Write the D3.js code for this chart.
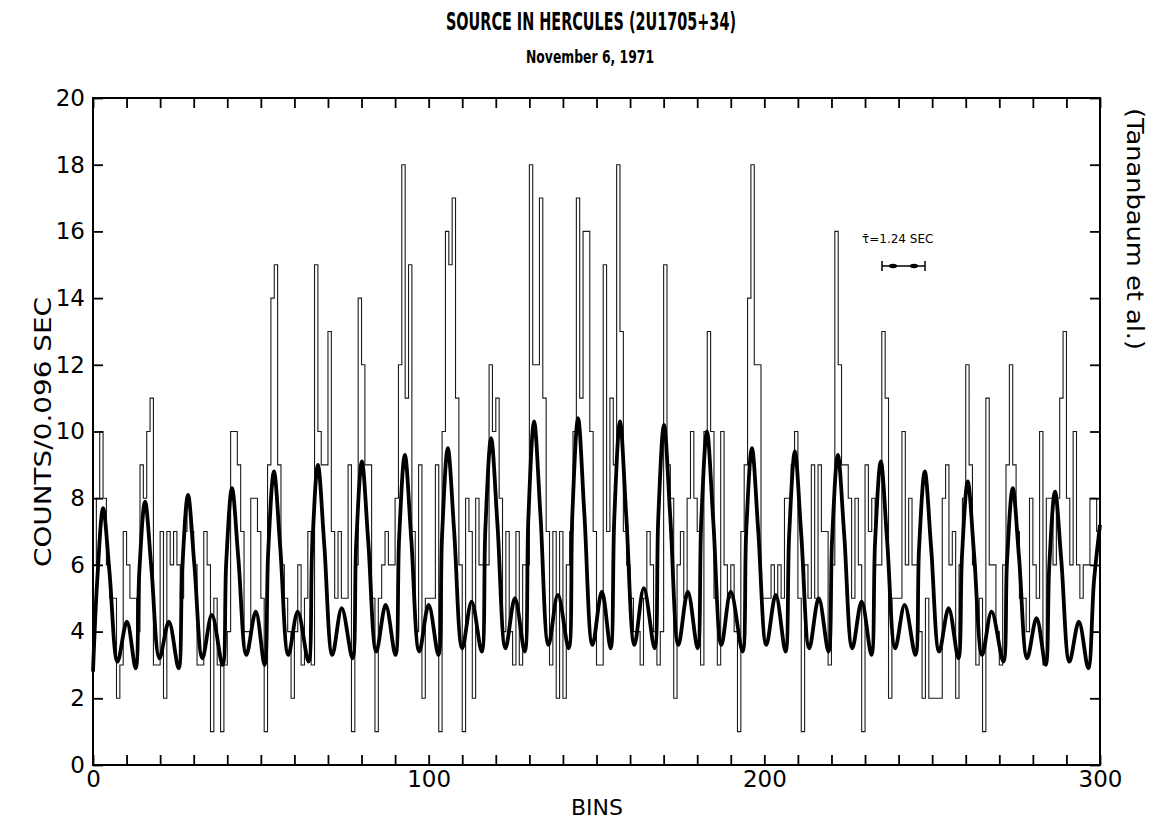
<!DOCTYPE html>
<html><head><meta charset="utf-8">
<script src="https://cdn.jsdelivr.net/npm/d3@7"></script>
<style>
body{margin:0;background:#fff;}
svg{display:block;}
</style></head>
<body><svg id="chart" width="1153" height="829"></svg>
<script>
// ---- data ----
const counts = [
6,8,10,8,6,5,5,2,3,7, 6,5,5,4,9,8,10,11,3,3, 7,2,7,6,7,6,5,7,8,7,
6,3,3,7,6,1,5,3,1,3, 4,10,10,9,7,4,4,8,8,7, 5,1,9,14,15,9,6,5,4,2,
4,6,3,5,7,3,15,10,9,9, 13,7,5,7,5,5,9,1,6,14, 12,9,9,5,1,5,6,7,6,6,
8,12,18,11,15,7,4,9,2,5, 5,5,9,1,10,16,15,17,11,6, 1,8,7,2,8,6,6,6,12,10,
11,8,4,7,4,3,7,3,6,6, 18,12,12,17,11,7,3,7,2,7, 2,6,7,10,17,11,16,16,10,7,
3,3,15,7,11,9,18,13,7,6, 5,4,4,3,5,7,6,4,3,4, 15,9,8,2,6,7,5,8,10,8,
7,3,10,13,10,5,3,10,6,5, 6,4,1,7,9,14,18,12,12,5, 5,5,6,5,6,5,8,8,9,10,
5,1,6,5,9,5,9,7,7,3, 6,16,12,9,9,8,5,8,6,1, 9,7,8,6,6,13,11,2,5,5,
5,10,6,8,6,6,4,2,5,2, 2,2,2,8,9,6,7,2,6,8, 12,9,6,3,5,1,11,6,6,4,
3,6,9,12,9,7,5,5,4,8, 6,5,10,3,8,8,6,8,11,13, 8,6,10,6,5,6,6,8,8,7
];
const modelBins = [
0,1.3,3.0,4.9,7.3,10.1,12.7,
13.8,15.5,17.4,19.8,22.6,25.5,
26.6,28.3,30.2,32.6,35.4,38.6,
39.7,41.4,43.3,45.7,48.5,51.1,
52.2,53.9,55.8,58.2,61.0,64.2,
65.3,67.0,68.9,71.3,74.1,77.3,
78.4,80.1,82.0,84.4,87.2,90.1,
91.2,92.9,94.8,97.2,100.0,102.9,
104.0,105.7,107.6,110.0,112.8,115.8,
116.9,118.6,120.5,122.9,125.7,128.6,
129.7,131.4,133.3,135.7,138.5,141.7,
142.8,144.5,146.4,148.8,151.6,154.2,
155.3,157.0,158.9,161.3,164.1,167.3,
168.4,170.1,172.0,174.4,177.2,180.1,
181.2,182.9,184.8,187.2,190.0,193.5,
194.6,196.3,198.2,200.6,203.4,206.3,
207.4,209.1,211.0,213.4,216.2,219.1,
220.2,221.9,223.8,226.2,229.0,231.9,
233.0,234.7,236.6,239.0,241.8,245.0,
246.1,247.8,249.7,252.1,254.9,257.8,
258.9,260.6,262.5,264.9,267.7,271.2,
272.3,274.0,275.9,278.3,281.1,283.8,
284.9,286.6,288.5,290.9,293.7,296.5,
298.2,300
];
const modelCounts = [
2.8,5.6,7.7,5.8,3.1,4.3,2.9,
5.8,7.9,5.9,3.2,4.3,2.9,
5.9,8.1,6.0,3.2,4.5,3.0,
6.1,8.3,6.2,3.3,4.6,3.0,
6.4,8.8,6.5,3.3,4.6,3.1,
6.5,9.0,6.6,3.3,4.7,3.2,
6.6,9.1,6.7,3.4,4.8,3.3,
6.8,9.3,6.8,3.4,4.8,3.3,
6.9,9.5,7.0,3.5,4.9,3.4,
7.1,9.8,7.2,3.5,5.0,3.4,
7.4,10.3,7.5,3.6,5.1,3.5,
7.5,10.4,7.5,3.6,5.2,3.5,
7.4,10.3,7.4,3.6,5.3,3.5,
7.4,10.2,7.4,3.6,5.2,3.5,
7.3,10.0,7.3,3.6,5.2,3.4,
7.0,9.5,7.0,3.6,5.1,3.4,
6.9,9.4,6.9,3.5,5.0,3.4,
6.8,9.3,6.9,3.5,4.9,3.3,
6.7,9.1,6.7,3.5,4.8,3.3,
6.5,8.8,6.5,3.4,4.7,3.2,
6.3,8.5,6.3,3.3,4.6,3.1,
6.1,8.3,6.2,3.2,4.4,3.0,
6.0,8.2,6.1,3.1,4.3,2.9,
5.5,7.2
];
const yTicks = [0,2,4,6,8,10,12,14,16,18,20];
const yTickLabels = ["0","2","4","6","8","10","12","14","16","18","20"];
const xMinorTicks = d3.range(0, 301, 10);
const xTickLabels = [0,100,200,300];
const titleText = "SOURCE IN HERCULES (2U1705+34)";
const subtitleText = "November 6, 1971";
const yTitle = "COUNTS/0.096 SEC";
const xTitle = "BINS";
const sideNote = "(Tananbaum et al.)";
const periodNote = "\u03C4\u0304=1.24 SEC";

// ---- layout ----
const svg = d3.select("#chart");
const L = 93, R = 1100, T = 98, B = 765;
const x = d3.scaleLinear().domain([0, 300]).range([L, R]);
const y = d3.scaleLinear().domain([0, 20]).range([B, T]);
const font = "'DejaVu Sans', 'Liberation Sans', sans-serif";
const boldFont = "'Liberation Sans Narrow', 'DejaVu Sans Condensed', 'Liberation Sans', sans-serif";

svg.append("rect").attr("width", 1153).attr("height", 829).attr("fill", "#fff");

// histogram (step line)
const histPts = counts.map((c, i) => [i, c]);
histPts.push([300, counts[counts.length - 1]]);
svg.append("path")
  .attr("d", d3.line().x(d => x(d[0])).y(d => y(d[1])).curve(d3.curveStepAfter)(histPts))
  .attr("fill", "none").attr("stroke", "#1a1a1a").attr("stroke-width", 1.1);

// model curve
const modelPts = modelBins.map((b, i) => [b, modelCounts[i]]);
svg.append("path")
  .attr("d", d3.line().x(d => x(d[0])).y(d => y(d[1])).curve(d3.curveCatmullRom.alpha(0.5))(modelPts))
  .attr("fill", "none").attr("stroke", "#000").attr("stroke-width", 3.8)
  .attr("stroke-linejoin", "round");

// frame
svg.append("rect").attr("x", L).attr("y", T).attr("width", R - L).attr("height", B - T)
  .attr("fill", "none").attr("stroke", "#000").attr("stroke-width", 2);

// axes (ticks inward)
function styleAxis(g) {
  g.select(".domain").remove();
  g.selectAll(".tick line").attr("stroke", "#000").attr("stroke-width", 1.8);
  g.selectAll(".tick text").attr("font-family", font).attr("font-size", 23).attr("fill", "#000");
}
svg.append("g").attr("transform", `translate(0,${B})`)
  .call(d3.axisBottom(x).tickValues(xMinorTicks).tickSizeInner(-10).tickSizeOuter(0).tickFormat(""))
  .call(styleAxis);
svg.append("g").attr("transform", `translate(0,${B})`)
  .call(d3.axisBottom(x).tickValues(xTickLabels).tickSize(0).tickPadding(6).tickFormat(d3.format("d")))
  .call(styleAxis);
svg.append("g").attr("transform", `translate(0,${T})`)
  .call(d3.axisTop(x).tickValues(xMinorTicks).tickSizeInner(-10).tickSizeOuter(0).tickFormat(""))
  .call(styleAxis);
svg.append("g").attr("transform", `translate(${L},0)`)
  .call(d3.axisLeft(y).tickValues(yTicks).tickSizeInner(-10).tickSizeOuter(0).tickPadding(8)
    .tickFormat((d, i) => yTickLabels[i]))
  .call(styleAxis);
svg.append("g").attr("transform", `translate(${R},0)`)
  .call(d3.axisRight(y).tickValues(yTicks).tickSizeInner(-10).tickSizeOuter(0).tickFormat(""))
  .call(styleAxis);

// titles
svg.append("text").attr("x", 591).attr("y", 30).attr("text-anchor", "middle")
  .attr("font-family", boldFont).attr("font-weight", "bold").attr("font-size", 24)
  .attr("textLength", 290).attr("lengthAdjust", "spacingAndGlyphs").text(titleText);
svg.append("text").attr("x", 590).attr("y", 63).attr("text-anchor", "middle")
  .attr("font-family", boldFont).attr("font-weight", "bold").attr("font-size", 17)
  .attr("textLength", 128).attr("lengthAdjust", "spacingAndGlyphs").text(subtitleText);
svg.append("text").attr("transform", "translate(51,432) rotate(-90)").attr("text-anchor", "middle")
  .attr("font-family", font).attr("font-size", 23)
  .attr("textLength", 270).attr("lengthAdjust", "spacingAndGlyphs").text(yTitle);
svg.append("text").attr("x", 597).attr("y", 815).attr("text-anchor", "middle")
  .attr("font-family", font).attr("font-size", 22).text(xTitle);
svg.append("text").attr("transform", "translate(1127,108) rotate(90)").attr("text-anchor", "start")
  .attr("font-family", font).attr("font-size", 23)
  .attr("textLength", 242).attr("lengthAdjust", "spacingAndGlyphs").text(sideNote);

// period annotation
svg.append("text").attr("x", 862).attr("y", 243).attr("font-family", font).attr("font-size", 12)
  .text(periodNote);
const pa = svg.append("g").attr("stroke", "#000").attr("stroke-width", 1.5);
pa.append("line").attr("x1", 882).attr("x2", 925).attr("y1", 266).attr("y2", 266);
pa.append("line").attr("x1", 882).attr("x2", 882).attr("y1", 261).attr("y2", 271);
pa.append("line").attr("x1", 925).attr("x2", 925).attr("y1", 261).attr("y2", 271);
svg.append("ellipse").attr("cx", 893).attr("cy", 266).attr("rx", 4).attr("ry", 2.2).attr("fill", "#000");
svg.append("ellipse").attr("cx", 914).attr("cy", 266).attr("rx", 4).attr("ry", 2.2).attr("fill", "#000");
</script></body></html>
